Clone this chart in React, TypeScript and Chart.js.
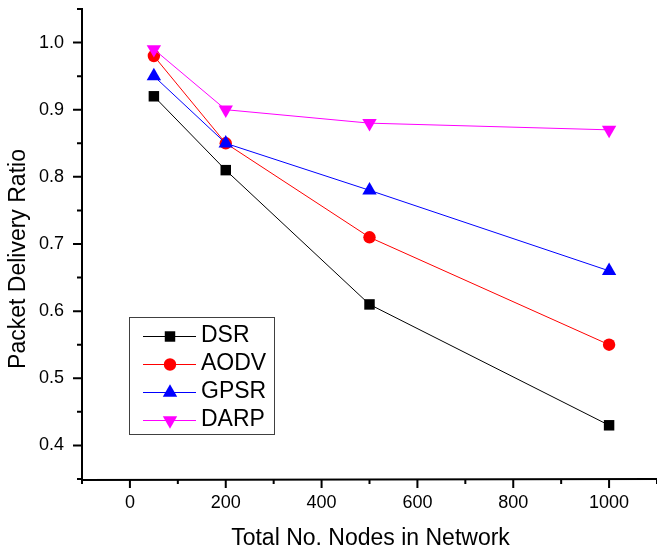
import React, { useEffect, useRef } from "react";
import { Chart, registerables } from "chart.js";

Chart.register(...registerables);

// Network sizes (x) and packet delivery ratio per routing protocol
const nodeCounts = [50, 200, 500, 1000];
const dsr = [0.92, 0.81, 0.61, 0.43];
const aodv = [0.98, 0.85, 0.71, 0.55];
const gpsr = [0.95, 0.85, 0.78, 0.66];
const darp = [0.99, 0.9, 0.88, 0.87];

const seriesNames = ["DSR", "AODV", "GPSR", "DARP"];
const seriesValues = [dsr, aodv, gpsr, darp];

// Axis ticks
const xMajorTicks = [0, 200, 400, 600, 800, 1000];
const xMinorTicks = [-100, 100, 300, 500, 700, 900, 1100];
const yMajorTicks = [0.4, 0.5, 0.6, 0.7, 0.8, 0.9, 1.0];
const yMinorTicks = [0.35, 0.45, 0.55, 0.65, 0.75, 0.85, 0.95, 1.05];

const FONT = '"Liberation Sans", Arial, Helvetica, sans-serif';

type MarkerStyle = "rect" | "circle" | "triangle" | "triangleDown";

const seriesStyles: { color: string; marker: MarkerStyle; radius: number }[] = [
  { color: "#000000", marker: "rect", radius: 7.4 },
  { color: "#ff0000", marker: "circle", radius: 6.2 },
  { color: "#0000ff", marker: "triangle", radius: 8.3 },
  { color: "#ff00ff", marker: "triangleDown", radius: 8.3 },
];

function drawMarker(ctx: CanvasRenderingContext2D, style: MarkerStyle, r: number, x: number, y: number, color: string) {
  ctx.save();
  ctx.fillStyle = color;
  ctx.beginPath();
  if (style === "rect") {
    const s = Math.SQRT1_2 * r;
    ctx.rect(x - s, y - s, 2 * s, 2 * s);
  } else if (style === "circle") {
    ctx.arc(x, y, r, 0, Math.PI * 2);
  } else {
    const dir = style === "triangle" ? 1 : -1;
    const w = r * Math.sin(Math.PI / 3);
    ctx.moveTo(x, y - dir * r);
    ctx.lineTo(x + w, y + dir * r / 2);
    ctx.lineTo(x - w, y + dir * r / 2);
    ctx.closePath();
  }
  ctx.fill();
  ctx.restore();
}

const frame = {
  id: "frame",
  afterDraw(chart: any) {
    const ctx: CanvasRenderingContext2D = chart.ctx;
    const xs = chart.scales.x;
    const ys = chart.scales.y;
    const area = chart.chartArea;
    const x0 = xs.getPixelForValue(-100);
    const y0 = ys.getPixelForValue(0.35);

    ctx.save();
    ctx.strokeStyle = "#000";
    ctx.lineWidth = 2;
    ctx.lineCap = "butt";

    // axis lines
    ctx.beginPath();
    ctx.moveTo(x0, ys.getPixelForValue(1.05) - 1);
    ctx.lineTo(x0, y0 + 1);
    ctx.lineTo(xs.getPixelForValue(1100) + 1, y0);
    ctx.stroke();

    // tick marks, outward
    ctx.beginPath();
    xMajorTicks.forEach((v) => {
      const p = xs.getPixelForValue(v);
      ctx.moveTo(p, y0);
      ctx.lineTo(p, y0 + 9);
    });
    xMinorTicks.forEach((v) => {
      const p = xs.getPixelForValue(v);
      ctx.moveTo(p, y0);
      ctx.lineTo(p, y0 + 5);
    });
    yMajorTicks.forEach((v) => {
      const p = ys.getPixelForValue(v);
      ctx.moveTo(x0, p);
      ctx.lineTo(x0 - 9, p);
    });
    yMinorTicks.forEach((v) => {
      const p = ys.getPixelForValue(v);
      ctx.moveTo(x0, p);
      ctx.lineTo(x0 - 5, p);
    });
    ctx.stroke();

    // axis titles
    ctx.fillStyle = "#000";
    ctx.font = `23px ${FONT}`;
    ctx.textAlign = "center";
    ctx.textBaseline = "alphabetic";
    ctx.fillText("Total No. Nodes in Network", (area.left + area.right) / 2 + 1, 544.5);
    ctx.save();
    ctx.translate(25, 259);
    ctx.rotate(-Math.PI / 2);
    ctx.fillText("Packet Delivery Ratio", 0, 0);
    ctx.restore();

    // legend
    ctx.lineWidth = 1;
    ctx.strokeStyle = "#404040";
    ctx.strokeRect(129.5, 317.5, 145, 117);
    ctx.font = `23px ${FONT}`;
    ctx.textAlign = "left";
    ctx.textBaseline = "middle";
    seriesNames.forEach((name, i) => {
      const st = seriesStyles[i];
      const cy = 336 + i * 28;
      ctx.strokeStyle = st.color;
      ctx.beginPath();
      ctx.moveTo(143, cy + 0.5);
      ctx.lineTo(196, cy + 0.5);
      ctx.stroke();
      drawMarker(ctx, st.marker, st.radius, 170, cy + 0.5, st.color);
      ctx.fillStyle = "#000";
      ctx.fillText(name, 201, cy);
    });
    ctx.restore();
  },
};

const chartPointStyle = (m: MarkerStyle) => (m === "circle" ? "circle" : m === "rect" ? "rect" : "triangle");

const noScalePadding = (s: any) => {
  s.paddingTop = 0;
  s.paddingBottom = 0;
  s.paddingLeft = 0;
  s.paddingRight = 0;
};

export default function App() {
  const canvasRef = useRef<HTMLCanvasElement | null>(null);

  useEffect(() => {
    const canvas = canvasRef.current;
    if (!canvas) return;
    const datasets = seriesNames.map((name, i) => {
      const st = seriesStyles[i];
      return {
        label: name,
        data: nodeCounts.map((n, j) => ({ x: n, y: seriesValues[i][j] })),
        borderColor: st.color,
        backgroundColor: st.color,
        borderWidth: 1,
        pointStyle: chartPointStyle(st.marker),
        pointRotation: st.marker === "triangleDown" ? 180 : 0,
        pointRadius: st.radius,
        pointHoverRadius: st.radius,
        pointBorderWidth: 0,
        pointBackgroundColor: st.color,
        tension: 0,
        fill: false,
        clip: false,
        order: seriesNames.length - 1 - i,
      };
    });

    const chart = new Chart(canvas, {
      type: "line",
      data: { datasets },
      options: {
        animation: false,
        responsive: false,
        devicePixelRatio: 1,
        events: [],
        layout: { autoPadding: false, padding: { top: 9, left: 0, right: 0, bottom: 0 } },
        plugins: {
          legend: { display: false },
          tooltip: { enabled: false },
          title: { display: false },
        },
        scales: {
          x: {
            type: "linear",
            min: -100,
            max: 1100,
            grid: { display: false, drawTicks: false },
            border: { display: false },
            afterBuildTicks: (s: any) => {
              s.ticks = xMajorTicks.map((v) => ({ value: v }));
            },
            afterFit: (s: any) => {
              s.height = 74;
              noScalePadding(s);
            },
            ticks: {
              autoSkip: false,
              maxRotation: 0,
              color: "#000",
              padding: 13,
              font: { family: FONT, size: 18 },
              callback: (v: any) => String(v),
            },
          },
          y: {
            type: "linear",
            min: 0.35,
            max: 1.05,
            grid: { display: false, drawTicks: false },
            border: { display: false },
            afterBuildTicks: (s: any) => {
              s.ticks = yMajorTicks.map((v) => ({ value: v }));
            },
            afterFit: (s: any) => {
              s.width = 82;
              noScalePadding(s);
            },
            ticks: {
              autoSkip: false,
              color: "#000",
              padding: 18,
              font: { family: FONT, size: 18 },
              callback: (v: any) => Number(v).toFixed(1),
            },
          },
        },
      },
      plugins: [frame],
    } as any);

    return () => chart.destroy();
  }, []);

  return (
    <div style={{ position: "absolute", left: 0, top: 0, width: 657, height: 553, background: "#fff" }}>
      <canvas ref={canvasRef} width={657} height={553} style={{ display: "block" }} />
    </div>
  );
}
